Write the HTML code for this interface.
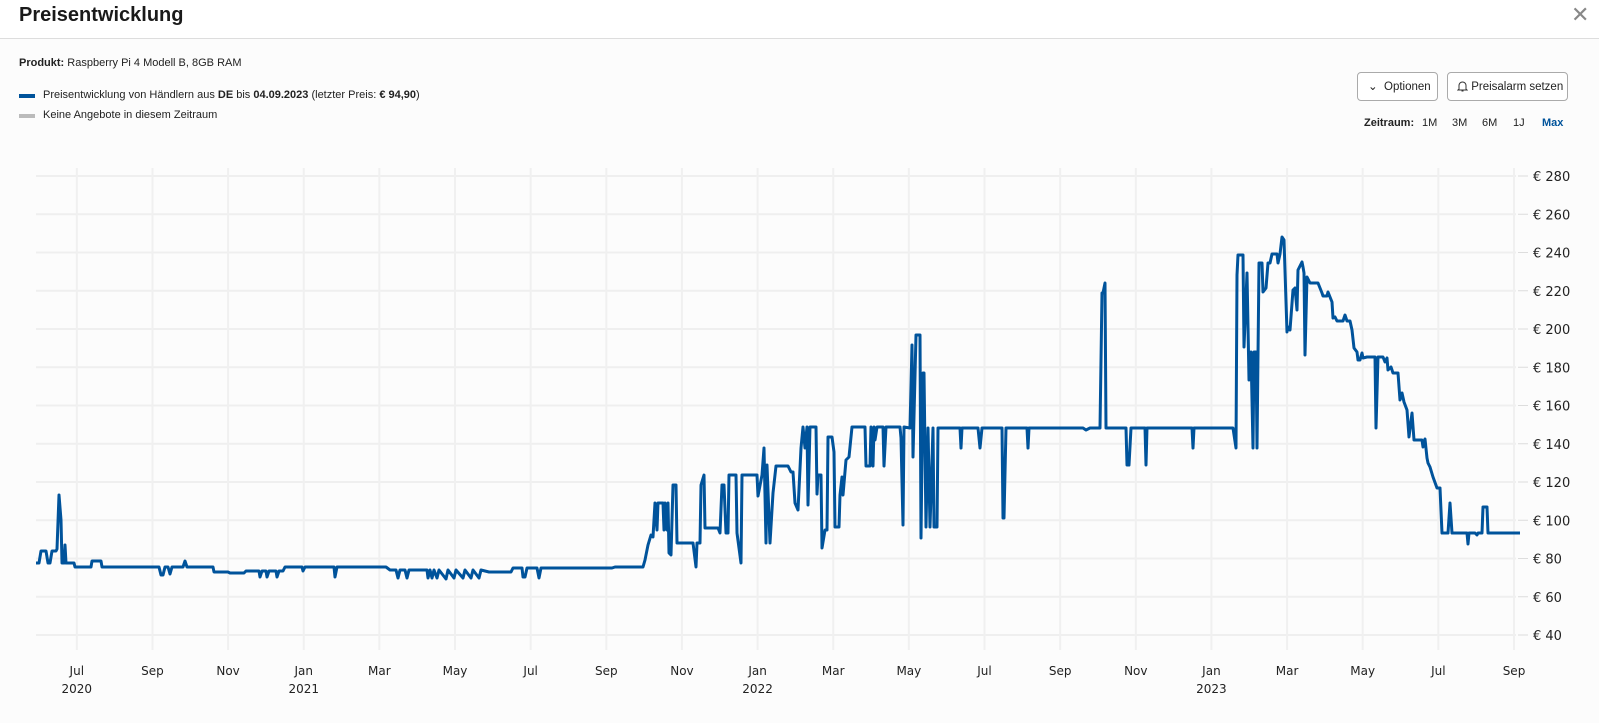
<!DOCTYPE html>
<html><head><meta charset="utf-8"><style>
html,body{margin:0;padding:0;background:#fcfcfc;width:1599px;height:723px;overflow:hidden;font-family:"Liberation Sans",sans-serif;color:#222}
.hdr{position:absolute;left:0;top:0;width:1599px;height:38px;border-bottom:1px solid #ddd;background:#fff}
.title{position:absolute;left:19px;top:4px;font-size:20px;font-weight:bold;color:#1a1a1a}
.x{position:absolute;left:1571px;top:2px;font-size:22px;color:#888;font-weight:300}
.t{position:absolute;font-size:11px;color:#222;white-space:nowrap}
.sw{position:absolute;left:19px;width:16px;height:4px}
.btn{position:absolute;top:72px;height:29px;border:1px solid #aaa;border-radius:4px;background:#fff;font-size:11.5px;line-height:28px;box-sizing:border-box;white-space:nowrap}
.z{position:absolute;top:117px;font-size:11px}
</style></head><body>
<div class="hdr"><div class="title">Preisentwicklung</div><div class="x">✕</div></div>
<div class="t" style="left:19px;top:57px"><b>Produkt:</b> Raspberry Pi 4 Modell B, 8GB RAM</div>
<div class="sw" style="top:94px;background:#00539b"></div>
<div class="t" style="left:43px;top:89px">Preisentwicklung von Händlern aus <b>DE</b> bis <b>04.09.2023</b> (letzter Preis: <b>€ 94,90</b>)</div>
<div class="sw" style="top:114px;background:#bbb"></div>
<div class="t" style="left:43px;top:109px">Keine Angebote in diesem Zeitraum</div>
<div class="btn" style="left:1357px;width:81px;padding-left:10px">⌄&nbsp; Optionen</div>
<div class="btn" style="left:1447px;width:121px;padding-left:9px"><svg width="11" height="12" style="vertical-align:-2px" viewBox="0 0 11 12"><path d="M2 9V5.5a3.5 3.5 0 0 1 7 0V9l1 1H1z M4.5 11h2" fill="none" stroke="#333" stroke-width="1"/></svg> Preisalarm setzen</div>
<div class="z" style="left:1364px;font-weight:bold">Zeitraum:</div>
<div class="z" style="left:1422px">1M</div><div class="z" style="left:1452px">3M</div>
<div class="z" style="left:1482px">6M</div><div class="z" style="left:1513px">1J</div>
<div class="z" style="left:1542px;color:#00539b;font-weight:bold">Max</div>
<svg id="c" width="1599" height="723" style="position:absolute;left:0;top:0"></svg>
<script>
var s='',ns='';
for(var i=0;i<13;i++){var y=176+i*38.25;s+='<line x1="36" x2="1516" y1="'+y+'" y2="'+y+'" stroke="#efefef" stroke-width="2"/>';
s+='<line x1="1518" x2="1528" y1="'+y+'" y2="'+y+'" stroke="#ddd"/>';
s+='<text x="1533" y="'+(y+5)+'" font-family="DejaVu Sans,sans-serif" font-size="13" fill="#222">€ '+(280-20*i)+'</text>';}
var m=['Jul','Sep','Nov','Jan','Mar','May','Jul','Sep','Nov','Jan','Mar','May','Jul','Sep','Nov','Jan','Mar','May','Jul','Sep'];
var yr={0:'2020',3:'2021',9:'2022',15:'2023'};
for(var i=0;i<20;i++){var x=76.8+i*(1514-76.8)/19;s+='<line x1="'+x+'" x2="'+x+'" y1="168" y2="650" stroke="#f0f0f0" stroke-width="2"/>';
s+='<text x="'+x+'" y="675" text-anchor="middle" font-family="DejaVu Sans,sans-serif" font-size="12" fill="#222">'+m[i]+'</text>';
if(yr[i])s+='<text x="'+x+'" y="693" text-anchor="middle" font-family="DejaVu Sans,sans-serif" font-size="12" fill="#222">'+yr[i]+'</text>';}
var p="36,563 39,563 41,551 46,551 48,563 50,563 52,551 56,551 57,549 59,495 61,520 62,563 64,563 65,545 66,563 74,563 75,567 91,567 92,561 101,561 102,567 159,567 161,575 163,575 165,567 168,567 170,574 172,567 183,567 185,561 187,567 213,567 214,572 228,572 230,573 244,573 246,571 259,571 260,577 262,571 266,571 267,577 269,571 276,571 277,577 279,571 283,571 285,567 302,567 303,571 305,567 334,567 335,577 337,567 386,567 390,570 396,570 398,578 400,570 405,570 407,578 409,570 427,570 428,578 430,570 432,578 434,570 437,578 439,570 446,579 448,570 454,578 456,570 463,578 465,570 471,578 473,570 479,578 481,570 489,572 511,572 513,568 522,568 523,577 525,577 527,568 537,568 539,578 541,568 612,568 615,567 643,567 645,560 648,545 651,535 653,537 655,503 657,530 658,503 663,503 664,530 665,503 667,530 668,503 669,553 671,555 673,485 676,485 677,543 693,543 696,567 697,543 700,543 701,485 704,475 705,528 718,528 720,533 722,485 724,485 726,533 728,533 729,475 736,475 737,533 741,563 742,475 757,475 758,496 762,475 764,448 766,543 767,465 770,543 773,493 776,466 788,466 791,472 793,472 795,503 798,510 801,448 803,427 805,448 807,427 808,505 810,427 816,427 817,494 818,475 821,475 822,548 825,530 827,530 828,437 832,437 834,452 835,527 839,527 840,495 842,477 843,495 846,460 849,457 852,427 865,427 866,466 870,466 871,427 873,466 874,427 875,440 877,427 883,427 884,466 886,427 900,427 901,438 903,525 904,427 910,428 912,345 913,457 916,335 920,335 921,538 923,373 924,373 926,527 928,428 930,527 933,428 934,527 937,527 938,428 960,428 961,448 962,428 978,428 980,448 982,428 1002,428 1003,518 1004,518 1006,428 1027,428 1028,448 1029,428 1083,428 1086,430 1090,428 1100,428 1102,293 1103,293 1105,283 1106,428 1126,428 1127,465 1129,465 1131,428 1145,428 1146,465 1147,428 1192,428 1193,448 1194,428 1233,428 1236,448 1237,275 1238,255 1243,255 1244,347 1247,273 1249,380 1251,352 1253,448 1254,352 1256,352 1257,448 1259,263 1262,263 1263,292 1266,288 1268,263 1270,263 1272,254 1277,254 1278,263 1280,254 1282,237 1284,240 1287,332 1288,327 1290,330 1293,290 1295,288 1297,310 1298,270 1302,262 1303,267 1304,273 1305,355 1307,277 1310,283 1318,283 1322,293 1323,296 1327,296 1328,292 1332,302 1333,318 1335,317 1337,321 1343,321 1345,315 1347,321 1350,321 1352,330 1354,348 1357,352 1358,360 1360,360 1362,353 1363,358 1367,357 1375,357 1376,428 1378,357 1383,357 1385,362 1387,358 1388,370 1391,367 1393,373 1398,373 1400,400 1402,393 1404,402 1407,410 1409,437 1412,413 1414,440 1422,440 1423,447 1425,439 1427,458 1428,463 1430,467 1433,477 1437,488 1440,488 1442,533 1448,533 1450,503 1452,533 1467,533 1468,544 1469,533 1475,533 1477,535 1478,533 1482,533 1483,507 1487,507 1488,533 1520,533";
s+='<polyline points="'+p+'" fill="none" stroke="#00539b" stroke-width="3" stroke-linejoin="round"/>';
document.getElementById('c').innerHTML=s;
</script>
</body></html>
